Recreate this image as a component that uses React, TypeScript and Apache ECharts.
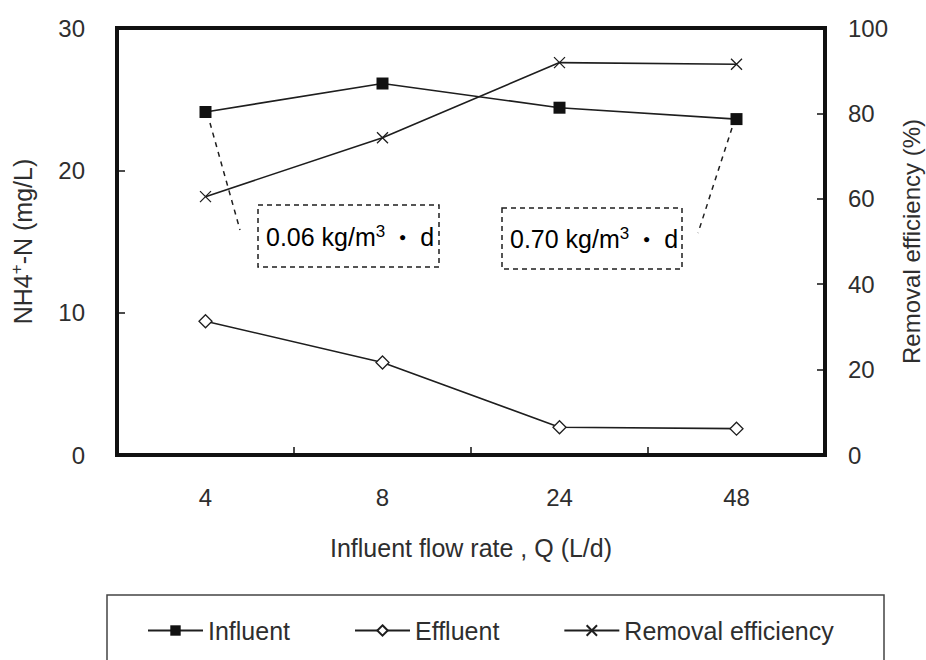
import React, { useEffect, useRef } from "react";
import * as echarts from "echarts";

const categories = ["4", "8", "24", "48"];
const influent = [24.1, 26.1, 24.4, 23.6];
const effluent = [9.4, 6.5, 1.95, 1.85];
const removal = [60.5, 74.3, 91.9, 91.5];
const seriesNames = ["Influent", "Effluent", "Removal efficiency"];
const loadLabels = ["0.06", "0.70"];

const FONT = "'Liberation Sans', Arial, sans-serif";
const TXT = "#2e2e2e";
const LINE = "#1e1e1e";

export default function App() {
  const ref = useRef<HTMLDivElement>(null);
  useEffect(() => {
    if (!ref.current) return;
    const chart = echarts.init(ref.current, null, { renderer: "svg" });
    const rich = {
      a: { fontSize: 25, fontFamily: FONT, color: TXT },
      s: { fontSize: 17, fontFamily: FONT, color: TXT, verticalAlign: "top", padding: [0, 0, 12, 0] },
      d: { fontSize: 12, fontFamily: FONT, color: TXT, fontWeight: "bold" },
    };
    const boxText = (v: string) => `{a|${v} kg/m}{s|3}{a|  }{d|●}{a|  d}`;
    chart.setOption({
      animation: false,
      backgroundColor: "#fff",
      textStyle: { fontFamily: FONT },
      grid: {
        left: 117,
        right: 101,
        top: 28,
        bottom: 205,
        containLabel: false,
        outerBoundsMode: "none",
        show: true,
        borderColor: "#111",
        borderWidth: 4,
        backgroundColor: "transparent",
      },
      legend: {
        left: 142,
        top: 613,
        itemWidth: 55,
        itemHeight: 13,
        itemGap: 64,
        data: seriesNames,
        textStyle: { fontSize: 25, color: TXT, fontFamily: FONT },
      },
      xAxis: {
        type: "category",
        data: categories,
        boundaryGap: true,
        axisLine: { show: false },
        axisTick: { show: true, inside: true, length: 8, lineStyle: { color: "#111", width: 1.5 } },
        axisLabel: { fontSize: 24, color: TXT, margin: 30, fontFamily: FONT },
        name: "Influent flow rate , Q (L/d)",
        nameLocation: "middle",
        nameGap: 80,
        nameTextStyle: { fontSize: 25, color: TXT, fontFamily: FONT },
        splitLine: { show: false },
      },
      yAxis: [
        {
          type: "value",
          min: 0,
          max: 30,
          interval: 10,
          position: "left",
          axisLine: { show: false },
          axisTick: { show: true, inside: true, length: 8, lineStyle: { color: "#111", width: 1.5 } },
          axisLabel: { fontSize: 24, color: TXT, margin: 32, fontFamily: FONT },
          splitLine: { show: false },
          name: "{a|NH4}{s|+}{a|-N (mg/L)}",
          nameLocation: "middle",
          nameGap: 80,
          nameTextStyle: { rich },
        },
        {
          type: "value",
          min: 0,
          max: 100,
          interval: 20,
          position: "right",
          axisLine: { show: false },
          axisTick: { show: true, inside: true, length: 8, lineStyle: { color: "#111", width: 1.5 } },
          axisLabel: { fontSize: 24, color: TXT, margin: 23, fontFamily: FONT },
          splitLine: { show: false },
          name: "Removal efficiency (%)",
          nameLocation: "middle",
          nameGap: 74,
          nameTextStyle: { fontSize: 24, color: TXT, fontFamily: FONT },
        },
      ],
      series: [
        {
          name: seriesNames[0],
          type: "line",
          yAxisIndex: 0,
          data: influent,
          symbol: "rect",
          symbolSize: 12,
          itemStyle: { color: "#111" },
          lineStyle: { color: LINE, width: 1.6 },
          z: 3,
        },
        {
          name: seriesNames[1],
          type: "line",
          yAxisIndex: 0,
          data: effluent,
          symbol: "diamond",
          symbolSize: 13,
          itemStyle: { color: "#fff", borderColor: LINE, borderWidth: 1.3 },
          lineStyle: { color: LINE, width: 1.6 },
          z: 3,
        },
        {
          name: seriesNames[2],
          type: "line",
          yAxisIndex: 1,
          data: removal,
          symbol: "path://M0,0L10,10M10,0L0,10",
          symbolSize: 11,
          itemStyle: { color: "none", borderColor: LINE, borderWidth: 1.3 },
          lineStyle: { color: LINE, width: 1.6 },
          z: 3,
        },
      ],
      graphic: [
        {
          type: "rect",
          shape: { x: 107, y: 595, width: 777, height: 90 },
          style: { fill: "none", stroke: "#444", lineWidth: 1.5 },
          silent: true,
        },
        {
          type: "rect",
          shape: { x: 258, y: 205, width: 181, height: 62 },
          style: { fill: "none", stroke: LINE, lineWidth: 1.5, lineDash: [5, 4] },
        },
        {
          type: "rect",
          shape: { x: 502, y: 208, width: 180, height: 61 },
          style: { fill: "none", stroke: LINE, lineWidth: 1.5, lineDash: [5, 4] },
        },
        {
          type: "line",
          shape: { x1: 210, y1: 123, x2: 240, y2: 230 },
          style: { stroke: LINE, lineWidth: 1.5, lineDash: [5, 5] },
        },
        {
          type: "line",
          shape: { x1: 732, y1: 128, x2: 698, y2: 233 },
          style: { stroke: LINE, lineWidth: 1.5, lineDash: [5, 5] },
        },
        {
          type: "text",
          x: 266,
          y: 237,
          style: { text: boxText(loadLabels[0]), rich, verticalAlign: "middle", align: "left" },
        },
        {
          type: "text",
          x: 510,
          y: 239,
          style: { text: boxText(loadLabels[1]), rich, verticalAlign: "middle", align: "left" },
        },
      ],
    });
    return () => chart.dispose();
  }, []);
  return (
    <div
      ref={ref}
      style={{ position: "fixed", left: 0, top: 0, width: 926, height: 660, background: "#fff" }}
    />
  );
}
